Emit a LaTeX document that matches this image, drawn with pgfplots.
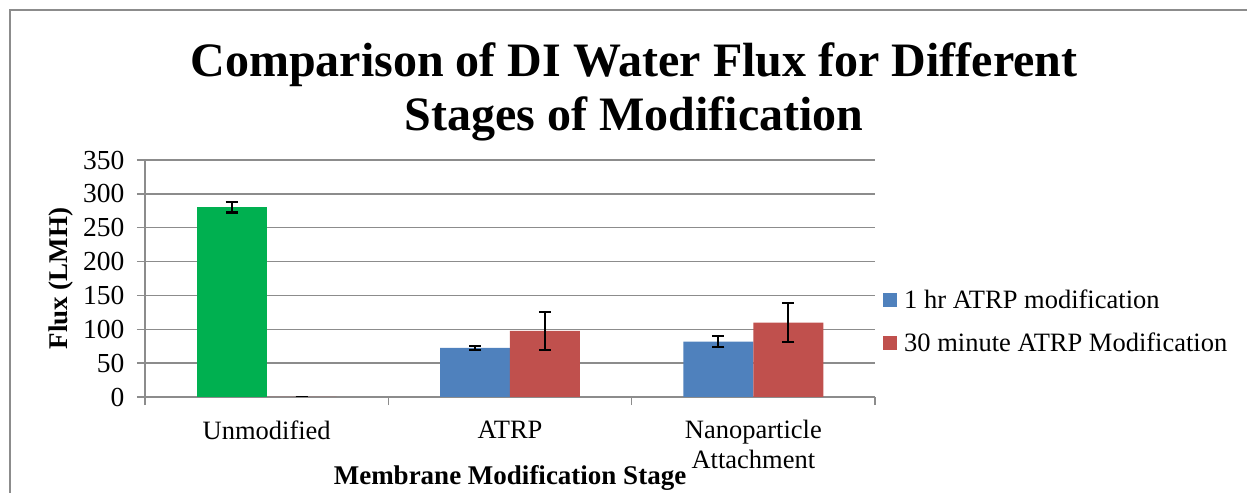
\documentclass[border=0pt]{standalone}
\usepackage{pgfplots}
\pgfplotsset{compat=1.18}
\usepackage{fontspec}
\setmainfont{Liberation Serif}
\definecolor{barblue}{HTML}{4F81BD}
\definecolor{barred}{HTML}{C0504D}
\definecolor{bargreen}{HTML}{00B050}
\definecolor{gridgray}{HTML}{8C8C8C}
\newcommand{\lbl}{\fontsize{26.5bp}{30bp}\selectfont}
\begin{document}
\begin{tikzpicture}
\useasboundingbox (0bp,0bp) rectangle (1247bp,493bp);
\draw[gridgray, line width=2bp] (10bp,-20bp) -- (10bp,483bp) -- (1270bp,483bp);
\node[font=\fontsize{48bp}{54bp}\selectfont\bfseries, anchor=base] at (634bp,416bp) {Comparison of DI Water Flux for Different};
\node[font=\fontsize{48bp}{54bp}\selectfont\bfseries, anchor=base] at (634bp,362bp) {Stages of Modification};
% bars are 70bp wide, one category is 243.33bp: offset 35bp = 0.1438 units
\begin{axis}[
  at={(145bp,96bp)}, anchor=south west,
  scale only axis, width=730bp, height=237bp,
  xmin=-0.5, xmax=2.5, ymin=0, ymax=350,
  ytick={0,50,...,350},
  xtick={0,1,2},
  xticklabels={Unmodified, ATRP, {Nanoparticle\\Attachment}},
  minor xtick={-0.5,0.5,1.5,2.5},
  major x tick style={draw=none},
  axis x line*=bottom, axis y line*=left,
  axis line style={gridgray, line width=1.5bp, -},
  ymajorgrids, grid style={gridgray, line width=1.5bp},
  tick align=outside, major tick length=8bp, minor tick length=8bp,
  tick style={gridgray, line width=1.5bp},
  tick label style={font=\lbl},
  yticklabel style={font=\fontsize{27.5bp}{30bp}\selectfont, xshift=-9bp},
  xticklabel style={align=center, yshift=-12bp},
  /pgf/number format/assume math mode=true,
  xlabel={Membrane Modification Stage},
  xlabel style={font=\fontsize{27bp}{30bp}\selectfont\bfseries, at={(axis description cs:0.5,0)}, anchor=base, yshift=-87bp},
  ylabel={Flux (LMH)},
  ylabel style={font=\fontsize{27bp}{30bp}\selectfont\bfseries, at={(axis description cs:-0.1055,0.5)}, anchor=base},
  legend style={at={(rel axis cs:1,0.318)}, anchor=west, xshift=5bp, draw=none, fill=none, font=\lbl, row sep=19bp},
  legend cell align=left,
  error bars/y dir=both, error bars/y explicit,
  error bars/error bar style={black, line width=2.2bp},
  error bars/error mark options={rotate=90, black, line width=2.2bp, mark size=6bp},
]
\addplot[ybar, bar width=70bp, bar shift=0pt, fill=barblue, draw=none,
  legend image code/.code={\fill[barblue] (0bp,-7bp) rectangle (14bp,7bp); \path (19bp,0bp);}]
  coordinates {(0.8562,72.4) +- (0,3.4) (1.8562,81.8) +- (0,8.4)};
\addlegendentry{1 hr ATRP modification}
\addplot[ybar, bar width=70bp, bar shift=0pt, fill=bargreen, draw=none, forget plot]
  coordinates {(-0.1438,280) +- (0,7.6)};
\addplot[ybar, bar width=70bp, bar shift=0pt, fill=barred, draw=none,
  legend image code/.code={\fill[barred] (0bp,-7bp) rectangle (14bp,7bp); \path (19bp,0bp);}]
  coordinates {(0.1438,0) +- (0,0) (1.1438,97.5) +- (0,28) (2.1438,110) +- (0,29.3)};
\addlegendentry{30 minute ATRP Modification}
\end{axis}
\end{tikzpicture}
\end{document}
